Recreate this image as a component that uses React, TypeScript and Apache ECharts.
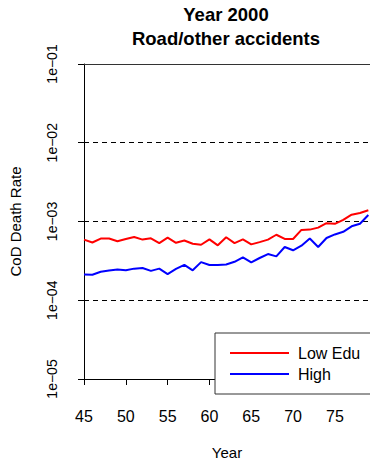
import React, { useEffect, useRef } from "react";
import * as echarts from "echarts";

const years = [45,46,47,48,49,50,51,52,53,54,55,56,57,58,59,60,61,62,63,64,65,66,67,68,69,70,71,72,73,74,75,76,77,78,79];
const lowEdu = [5.89e-4,5.41e-4,6.07e-4,6.07e-4,5.62e-4,6.0e-4,6.35e-4,5.89e-4,6.12e-4,5.31e-4,6.24e-4,5.36e-4,5.73e-4,5.21e-4,5.07e-4,5.94e-4,4.98e-4,6.30e-4,5.31e-4,5.94e-4,5.12e-4,5.47e-4,5.89e-4,6.79e-4,6.0e-4,6.0e-4,7.82e-4,7.89e-4,8.36e-4,9.53e-4,9.35e-4,1.047e-3,1.22e-3,1.28e-3,1.39e-3];
const highEdu = [2.13e-4,2.11e-4,2.30e-4,2.38e-4,2.45e-4,2.40e-4,2.52e-4,2.57e-4,2.36e-4,2.52e-4,2.15e-4,2.50e-4,2.82e-4,2.40e-4,3.05e-4,2.80e-4,2.80e-4,2.85e-4,3.08e-4,3.51e-4,3.02e-4,3.44e-4,3.86e-4,3.61e-4,4.74e-4,4.31e-4,4.93e-4,6.07e-4,4.74e-4,6.18e-4,6.85e-4,7.40e-4,8.69e-4,9.35e-4,1.21e-3];
const seriesNames = ["Low Edu", "High"];
const titleLines = ["Year 2000", "Road/other accidents"];

const FONT = "Liberation Sans, Arial, sans-serif";

export default function App() {
  const ref = useRef<HTMLDivElement>(null);
  useEffect(() => {
    if (!ref.current) return;
    const chart = echarts.init(ref.current, null, { renderer: "svg" });
    const fmtY = (v: number) => {
      const n = Math.round(Math.log10(v));
      const s = String(Math.abs(n)).padStart(2, "0");
      return "1e" + (n < 0 ? "\u2212" : "+") + s;
    };
    chart.setOption({
      animation: false,
      backgroundColor: "#fff",
      textStyle: { fontFamily: FONT, color: "#000" },
      title: {
        text: titleLines.join("\n"),
        left: 226,
        top: 3,
        padding: 0,
        textAlign: "center",
        textStyle: { fontFamily: FONT, fontWeight: "bold", fontSize: 18.5, lineHeight: 23.5, color: "#000" },
      },
      grid: { left: 82, top: 64, width: 288, height: 326, containLabel: false },
      legend: {
        orient: "vertical",
        left: 215,
        top: 333,
        padding: [12, 40, 12, 14],
        itemWidth: 59,
        itemHeight: 14,
        itemGap: 5,
        borderColor: "#333",
        borderWidth: 1,
        backgroundColor: "#fff",
        itemStyle: { opacity: 0 },
        textStyle: { fontFamily: FONT, fontSize: 16, color: "#000", padding: [0, 0, 0, 4] },
        data: seriesNames,
      },
      xAxis: [
        {
          type: "value",
          min: 45,
          max: 79.2,
          interval: 5,
          name: "Year",
          nameLocation: "middle",
          nameGap: 66,
          nameTextStyle: { fontFamily: FONT, fontSize: 15, color: "#000" },
          axisLine: { show: true, onZero: false, lineStyle: { color: "#000", width: 1 } },
          axisTick: { show: true, length: 6, lineStyle: { color: "#000" } },
          axisLabel: { fontFamily: FONT, fontSize: 16, color: "#000", margin: 29, showMaxLabel: false },
          splitLine: { show: false },
        },
        {
          type: "value",
          min: 45,
          max: 79.2,
          position: "top",
          axisLine: { show: true, onZero: false, lineStyle: { color: "#333", width: 1 } },
          axisTick: { show: false },
          axisLabel: { show: false },
          splitLine: { show: false },
        },
      ],
      yAxis: {
        type: "log",
        logBase: 10,
        min: 1e-5,
        max: 1e-1,
        interval: 1,
        name: "CoD Death Rate",
        nameLocation: "middle",
        nameGap: 61,
        nameRotate: 90,
        nameTextStyle: { fontFamily: FONT, fontSize: 15, color: "#000" },
        axisLine: { show: true, onZero: false, lineStyle: { color: "#000", width: 1 } },
        axisTick: { show: true, length: 6, lineStyle: { color: "#000" } },
        axisLabel: { fontFamily: FONT, fontSize: 14, color: "#000", rotate: 90, margin: 25, formatter: fmtY },
        splitLine: { show: true, lineStyle: { color: "#000", type: [5, 4], width: 1 } },
      },
      series: [
        {
          name: seriesNames[0],
          type: "line",
          data: years.map((x, i) => [x, lowEdu[i]]),
          showSymbol: false,
          symbol: "none",
          lineStyle: { color: "#ff0000", width: 2 },
          itemStyle: { color: "#ff0000" },
        },
        {
          name: seriesNames[1],
          type: "line",
          data: years.map((x, i) => [x, highEdu[i]]),
          showSymbol: false,
          symbol: "none",
          lineStyle: { color: "#0000ff", width: 2 },
          itemStyle: { color: "#0000ff" },
        },
      ],
    });
    return () => chart.dispose();
  }, []);
  return (
    <div
      ref={ref}
      style={{ position: "fixed", left: 0, top: 0, width: 370, height: 465, background: "#fff" }}
    />
  );
}
